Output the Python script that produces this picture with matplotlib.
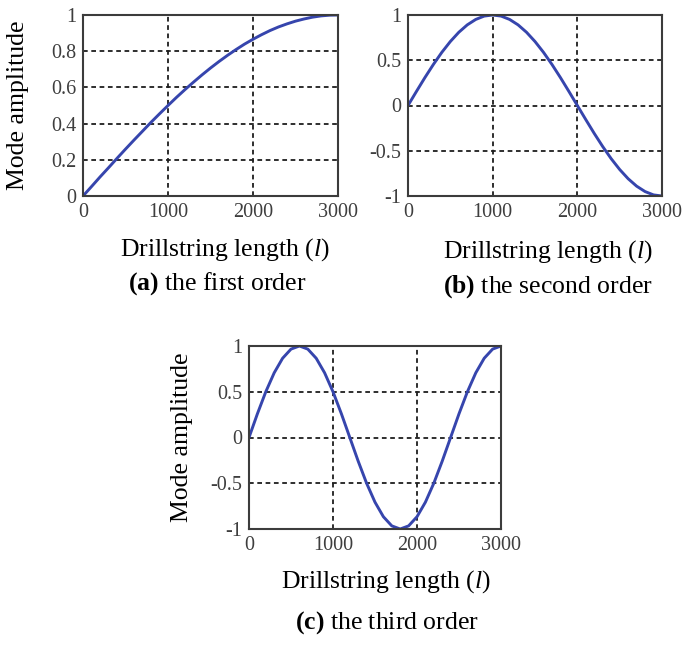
import matplotlib
matplotlib.use("Agg")
import matplotlib.pyplot as plt

# ---------------------------
# Data (mode shapes along the drillstring)
# ---------------------------
length = [0, 100, 200, 300, 400, 500, 600, 700, 800, 900, 1000,
          1100, 1200, 1300, 1400, 1500, 1600, 1700, 1800, 1900, 2000,
          2100, 2200, 2300, 2400, 2500, 2600, 2700, 2800, 2900, 3000]

mode1 = [0.000, 0.052, 0.105, 0.156, 0.208, 0.259, 0.309, 0.358, 0.407, 0.454, 0.500,
         0.545, 0.588, 0.629, 0.669, 0.707, 0.743, 0.777, 0.809, 0.839, 0.866,
         0.891, 0.914, 0.934, 0.951, 0.966, 0.978, 0.988, 0.995, 0.999, 1.000]

mode2 = [0.000, 0.156, 0.309, 0.454, 0.588, 0.707, 0.809, 0.891, 0.951, 0.988, 1.000,
         0.988, 0.951, 0.891, 0.809, 0.707, 0.588, 0.454, 0.309, 0.156, 0.000,
         -0.156, -0.309, -0.454, -0.588, -0.707, -0.809, -0.891, -0.951, -0.988, -1.000]

mode3 = [0.000, 0.259, 0.500, 0.707, 0.866, 0.966, 1.000, 0.966, 0.866, 0.707, 0.500,
         0.259, 0.000, -0.259, -0.500, -0.707, -0.866, -0.966, -1.000, -0.966, -0.866,
         -0.707, -0.500, -0.259, 0.000, 0.259, 0.500, 0.707, 0.866, 0.966, 1.000]

xticks = [0, 1000, 2000, 3000]
yticks_a = [0, 0.2, 0.4, 0.6, 0.8, 1]
yticks_bc = [-1, -0.5, 0, 0.5, 1]

# ---------------------------
# Styling
# ---------------------------
plt.rcParams['font.family'] = ['Liberation Serif', 'DejaVu Serif']
plt.rcParams['mathtext.fontset'] = 'custom'
plt.rcParams['mathtext.rm'] = 'Liberation Serif'
plt.rcParams['mathtext.it'] = 'Liberation Serif:italic'
plt.rcParams['mathtext.bf'] = 'Liberation Serif:bold'

W, H = 684, 645
fig = plt.figure(figsize=(W / 100, H / 100), dpi=100)


def px_axes(left, top, right, bottom):
    return fig.add_axes([left / W, 1 - bottom / H, (right - left) / W, (bottom - top) / H])


def style(ax, yticks, ylim):
    ax.set_xlim(0, 3000)
    ax.set_ylim(*ylim)
    ax.set_xticks(xticks)
    ax.set_yticks(yticks)
    ax.set_xticklabels([str(t) for t in xticks])
    ax.set_yticklabels([f"{t:g}" for t in yticks])
    ax.tick_params(length=0, labelsize=14.5, labelcolor='#3e3e3e', pad=5)
    ax.grid(True, color='#1e1e1e', linestyle=(0, (2.6, 2.0)), linewidth=1.3)
    for s in ax.spines.values():
        s.set_color('#3c3c3c')
        s.set_linewidth(1.5)


line_kw = dict(color='#3645ad', linewidth=2.1, solid_capstyle='round')

ax_a = px_axes(83, 15, 338, 196)
ax_a.plot(length, mode1, **line_kw)
style(ax_a, yticks_a, (0, 1))

ax_b = px_axes(408, 15, 662, 196)
ax_b.plot(length, mode2, **line_kw)
style(ax_b, yticks_bc, (-1, 1))

ax_c = px_axes(249, 346, 501, 529)
ax_c.plot(length, mode3, **line_kw)
style(ax_c, yticks_bc, (-1, 1))

# ---------------------------
# Labels and captions
# ---------------------------
fs = 18.5


def ftext(x, y, s, **kw):
    fig.text(x / W, 1 - y / H, s, ha='center', va='center', fontsize=fs, **kw)


xlab = r"Drillstring length ($\mathit{l}$)"
ftext(225, 250, xlab)
ftext(548, 252, xlab)
ftext(386, 582, xlab)

ftext(217, 284, r"$\mathbf{(a)}$ the first order")
ftext(548, 287, r"$\mathbf{(b)}$ the second order")
ftext(387, 623, r"$\mathbf{(c)}$ the third order")

ftext(18, 105, "Mode amplitude", rotation=90)
ftext(182, 437, "Mode amplitude", rotation=90)

fig.savefig("out.png", dpi=100)
